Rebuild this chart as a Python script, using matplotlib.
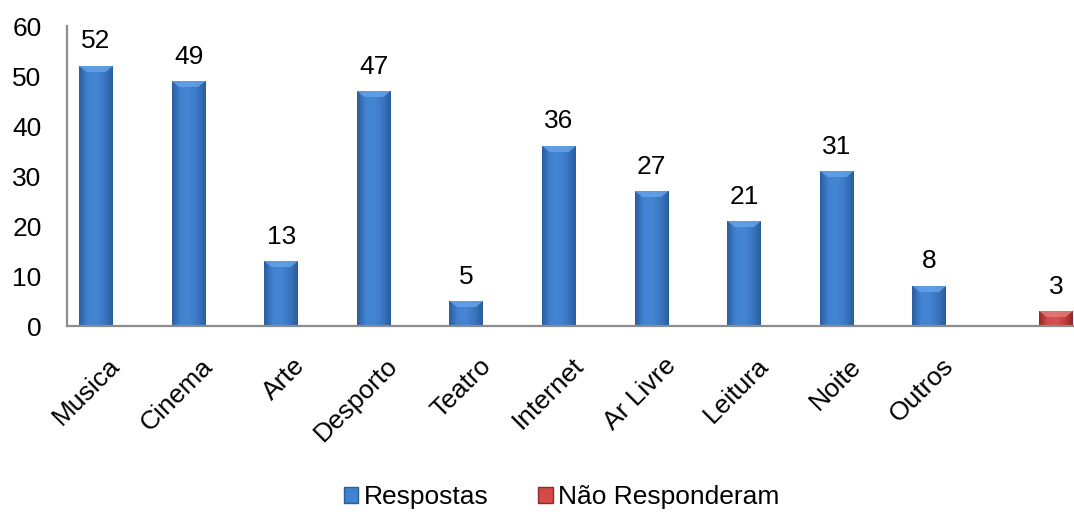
import numpy as np
import matplotlib.pyplot as plt
import matplotlib.transforms as mtransforms
from matplotlib.colors import LinearSegmentedColormap
from matplotlib.patches import Polygon, Rectangle

plt.rcParams['font.family'] = ['Liberation Sans', 'DejaVu Sans']

# Dados
categorias = ['Musica', 'Cinema', 'Arte', 'Desporto', 'Teatro', 'Internet',
              'Ar Livre', 'Leitura', 'Noite', 'Outros', '']
respostas = [52, 49, 13, 47, 5, 36, 27, 21, 31, 8, None]
nao_responderam = [None] * 10 + [3]
series = ['Respostas', 'Não Responderam']

azul = LinearSegmentedColormap.from_list('azul', ['#2a5d9c', '#4182d2', '#4586d4', '#3a77c3', '#2a5d9c'])
vermelho = LinearSegmentedColormap.from_list('verm', ['#932826', '#d04c49', '#d55552', '#c2403d', '#932826'])
topo_azul, topo_verm = '#66a4ea', '#e87c79'

fig = plt.figure(figsize=(10.74, 5.16), dpi=100)
ax = fig.add_axes([66.7 / 1074, 190 / 516, 1018.6 / 1074, 300 / 516])

x = np.arange(len(categorias))
w = 0.367


def barras(xs, vals, cmap, topo):
    grad = np.linspace(0, 1, 64).reshape(1, -1)
    for xi, v in zip(xs, vals):
        if v is None:
            continue
        r = Rectangle((xi - w / 2, 0), w, v, facecolor='none', edgecolor='none')
        ax.add_patch(r)
        im = ax.imshow(grad, cmap=cmap, aspect='auto', extent=(xi - w / 2, xi + w / 2, 0, v),
                       zorder=2, interpolation='bilinear')
        im.set_clip_path(r)
        # chanfro no topo
        b = min(1.2, v * 0.4)
        ax.add_patch(Polygon([(xi - w / 2, v), (xi + w / 2, v), (xi + w / 2 - 0.08, v - b),
                              (xi - w / 2 + 0.08, v - b)], closed=True, facecolor=topo,
                             edgecolor='none', alpha=0.8, zorder=3))
        ax.annotate(str(v), (xi, v), xytext=(0, 9), textcoords='offset points',
                    ha='center', va='bottom', fontsize=19)


barras(x - w / 2, respostas, azul, topo_azul)
barras(x + w / 2, nao_responderam, vermelho, topo_verm)

ax.set_xlim(-0.5, len(categorias) - 0.5)
ax.set_ylim(0, 60)
ax.set_yticks(range(0, 61, 10))
ax.set_xticks(x)
ax.set_xticklabels(categorias, rotation=45, ha='right', va='top', rotation_mode='anchor')
ax.tick_params(axis='both', length=0, labelsize=19)
ax.tick_params(axis='y', pad=18)
ax.tick_params(axis='x', pad=20)
desl = mtransforms.ScaledTranslation(-5 / 100, 0, fig.dpi_scale_trans)
for lab in ax.get_xticklabels():
    lab.set_transform(lab.get_transform() + desl)
for s in ['top', 'right']:
    ax.spines[s].set_visible(False)
for s in ['left', 'bottom']:
    ax.spines[s].set_color('#8c8c8c')
    ax.spines[s].set_linewidth(1.6)

handles = [Rectangle((0, 0), 1, 1, facecolor='#4182d2', edgecolor='#2a5d9c'),
           Rectangle((0, 0), 1, 1, facecolor='#d04c49', edgecolor='#932826')]
fig.legend(handles, series, loc='center', bbox_to_anchor=(0.523, 1 - 497 / 516), ncol=2,
           frameon=False, fontsize=19, handlelength=0.55, handleheight=0.55,
           handletextpad=0.2, columnspacing=1.9)

fig.savefig('out.png', dpi=100)
